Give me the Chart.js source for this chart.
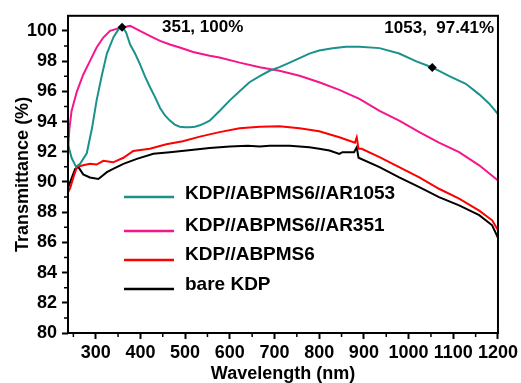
<!DOCTYPE html>
<html>
<head>
<meta charset="utf-8">
<script src="https://cdn.jsdelivr.net/npm/chart.js@4/dist/chart.umd.min.js"></script>
<style>
html,body{margin:0;padding:0;background:#fff;}
canvas{display:block;}
</style>
</head>
<body>
<canvas id="c" width="521" height="383"></canvas>
<script>
// ---------- data ----------
const seriesNames = ["KDP//ABPMS6//AR1053", "KDP//ABPMS6//AR351", "KDP//ABPMS6", "bare KDP"];
const seriesColors = ["#1b918b", "#f5168c", "#ff0000", "#000000"];

const wlAR1053 = [238,246,256,265,280,292,302,314,325,340,352,360,368,377,388,399,410,421,433,444,455,466,477,488,500,510,522,533,544,555,577,600,622,644,667,689,711,734,756,778,800,830,860,890,935,979,1016,1053,1091,1128,1158,1180,1200];
const tAR1053  = [92.5,91.6,91.0,91.2,91.9,93.6,95.4,97.1,98.5,99.6,100.15,100.25,99.9,99.1,98.5,97.8,97.0,96.3,95.6,94.9,94.4,94.06,93.8,93.66,93.62,93.62,93.66,93.75,93.9,94.06,94.7,95.4,96.0,96.6,97.0,97.36,97.6,97.9,98.2,98.5,98.7,98.85,98.95,98.95,98.86,98.5,98.0,97.58,97.0,96.5,95.8,95.2,94.5];

const wlAR351 = [238,241,246,258,272,287,302,317,332,354,377,399,421,444,466,488,518,555,577,622,667,711,756,800,845,890,935,979,1024,1068,1113,1158,1200];
const tAR351  = [92.0,93.5,94.7,96.0,97.1,98.0,98.9,99.56,100.0,100.2,100.33,100.0,99.67,99.34,99.1,98.9,98.6,98.35,98.24,97.9,97.6,97.36,97.03,96.6,96.1,95.5,94.7,94.06,93.3,92.6,91.97,91.1,90.1];

const wlABPMS6 = [238,243,250,258,272,287,302,317,339,362,384,421,458,495,533,577,622,667,711,756,800,845,880,884,888,895,935,979,1024,1068,1113,1158,1187,1200];
const tABPMS6  = [89.3,89.6,90.3,91.0,91.1,91.2,91.15,91.4,91.3,91.6,92.05,92.2,92.5,92.7,93.0,93.3,93.55,93.66,93.68,93.55,93.35,92.96,92.6,92.95,92.2,92.2,91.65,90.98,90.3,89.55,88.89,88.1,87.46,86.8];

const wlBare = [238,243,254,261,272,287,306,325,339,362,392,429,466,503,555,600,640,667,689,734,778,800,823,845,852,878,884,888,935,979,1024,1068,1113,1158,1187,1200];
const tBare  = [89.6,90.0,90.87,91.0,90.5,90.3,90.2,90.65,90.87,91.2,91.53,91.86,91.97,92.08,92.25,92.35,92.4,92.34,92.4,92.4,92.3,92.2,92.08,91.86,91.97,91.97,92.3,91.6,90.98,90.3,89.66,89.0,88.45,87.8,87.13,86.3];

const markerWl = [359, 1053];
const markerT  = [100.25, 97.58];
const markerLabels = ["351, 100%", "1053,  97.41%"];

const xTicks = [300,400,500,600,700,800,900,1000,1100,1200];
const xMinor = [250,350,450,550,650,750,850,950,1050,1150];
const yTicks = [80,82,84,86,88,90,92,94,96,98,100];
const yMinor = [81,83,85,87,89,91,93,95,97,99];
const xTitle = "Wavelength (nm)";
const yTitle = "Transmittance (%)";

// ---------- build ----------
const pts = (xs, ys) => xs.map((v, i) => ({x: v, y: ys[i]}));
const seriesData = [pts(wlAR1053, tAR1053), pts(wlAR351, tAR351), pts(wlABPMS6, tABPMS6), pts(wlBare, tBare)];

const FONT = "'Liberation Sans', Arial, sans-serif";

const datasets = [{
  label: "markers",
  data: pts(markerWl, markerT),
  showLine: false,
  pointStyle: 'rectRot',
  pointRadius: 4.5,
  pointBackgroundColor: '#000',
  pointBorderColor: '#000',
  pointBorderWidth: 0
}];
seriesNames.forEach((n, i) => datasets.push({
  label: n,
  data: seriesData[i],
  borderColor: seriesColors[i],
  backgroundColor: seriesColors[i],
  borderWidth: 2,
  pointRadius: 0,
  tension: 0,
  showLine: true,
  fill: false
}));

const legendRows = [{line: 197, text: 194}, {line: 231, text: 226}, {line: 260, text: 255}, {line: 289, text: 285}];

const decor = {
  id: 'decor',
  afterDraw(chart) {
    const {ctx, chartArea: a, scales: {x, y}} = chart;
    ctx.save();
    ctx.strokeStyle = '#000';
    ctx.lineWidth = 2;
    ctx.strokeRect(a.left, a.top, a.right - a.left, a.bottom - a.top);
    ctx.lineWidth = 1.5;
    ctx.beginPath();
    xMinor.forEach(v => { const p = x.getPixelForValue(v); ctx.moveTo(p, a.bottom); ctx.lineTo(p, a.bottom + 4); });
    yMinor.forEach(v => { const p = y.getPixelForValue(v); ctx.moveTo(a.left, p); ctx.lineTo(a.left - 4, p); });
    ctx.stroke();
    // legend
    ctx.font = "bold 19px " + FONT;
    ctx.textBaseline = 'middle';
    ctx.textAlign = 'left';
    seriesNames.forEach((n, i) => {
      ctx.strokeStyle = seriesColors[i];
      ctx.lineWidth = 2.5;
      ctx.beginPath();
      ctx.moveTo(124, legendRows[i].line);
      ctx.lineTo(174, legendRows[i].line);
      ctx.stroke();
      ctx.fillStyle = '#000';
      ctx.fillText(n, 185, legendRows[i].text);
    });
    // annotations
    ctx.font = "bold 17px " + FONT;
    ctx.fillStyle = '#000';
    ctx.textAlign = 'left';
    ctx.fillText(markerLabels[0], 162, 27);
    ctx.textAlign = 'right';
    ctx.fillText(markerLabels[1], 494, 28);
    ctx.restore();
  }
};

new Chart(document.getElementById('c'), {
  type: 'scatter',
  data: {datasets},
  options: {
    responsive: false,
    animation: false,
    devicePixelRatio: 1,
    layout: {padding: {left: 0, right: 22, top: 15, bottom: 0}},
    plugins: {legend: {display: false}, tooltip: {enabled: false}},
    scales: {
      x: {
        type: 'linear',
        min: 238, max: 1200,
        afterBuildTicks: s => { s.ticks = xTicks.map(v => ({value: v})); },
        afterFit: s => { s.height = 50; },
        border: {display: false},
        grid: {drawOnChartArea: false, drawTicks: true, tickLength: 6, tickWidth: 2, tickColor: '#000'},
        ticks: {autoSkip: false, maxRotation: 0, minRotation: 0, padding: 3, color: '#000', callback: v => String(v), font: {family: FONT, size: 18, weight: 'bold'}},
        title: {display: true, text: xTitle, color: '#000', font: {family: FONT, size: 18, weight: 'bold', lineHeight: 1}, padding: {top: 0, bottom: 0}}
      },
      y: {
        type: 'linear',
        min: 80, max: 101,
        afterBuildTicks: s => { s.ticks = yTicks.map(v => ({value: v})); },
        afterFit: s => { s.width = 68; },
        border: {display: false},
        grid: {drawOnChartArea: false, drawTicks: true, tickLength: 6, tickWidth: 2, tickColor: '#000'},
        ticks: {padding: 5, color: '#000', callback: v => String(v), font: {family: FONT, size: 18, weight: 'bold'}},
        title: {display: true, text: yTitle, color: '#000', font: {family: FONT, size: 18, weight: 'bold', lineHeight: 1.2}, padding: {top: 12, bottom: 0}}
      }
    }
  },
  plugins: [decor]
});
</script>
</body>
</html>
